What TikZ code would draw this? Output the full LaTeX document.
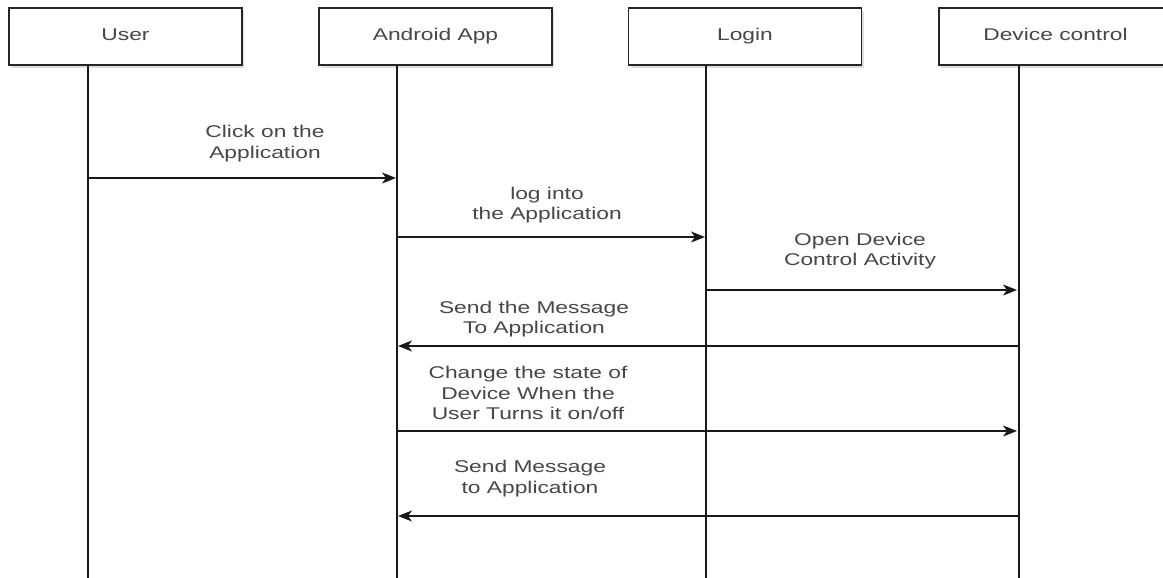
\documentclass[tikz,border=0pt]{standalone}
\usepackage{fontspec}
\setmainfont[FakeStretch=1.34]{Liberation Sans}
\usetikzlibrary{arrows.meta,shadows}
\begin{document}
\begin{tikzpicture}[x=1pt,y=-1pt,
  actor/.style={draw=black!85, line width=1.4pt, fill=white, minimum width=233pt, minimum height=57pt, inner sep=0pt,
    font=\fontsize{17}{20.5}\selectfont, text=black!72, text height=12.5pt, text depth=3.5pt,
    drop shadow={shadow xshift=2pt, shadow yshift=-3pt, opacity=0.25}},
  life/.style={line width=1.3pt, draw=black!90},
  msg/.style={line width=1.3pt, draw=black!90, -{Stealth[length=14pt,width=11pt,inset=4pt]}},
  lbl/.style={align=center, font=\fontsize{17}{20.5}\selectfont, text=black!72, inner sep=0pt}]
\useasboundingbox (0,0) rectangle (1163,578);
\clip (0,0) rectangle (1163,578);
\fill[white] (0,0) rectangle (1163,578);

% actor boxes
\node[actor] (user) at (125.5,36.5) {User};
\node[actor] (app) at (435.5,36.5) {Android App};
\node[actor] (login) at (745,36.5) {Login};
\node[actor] (dev) at (1055.5,36.5) {Device control};

% lifelines
\coordinate (uT) at (88,65); \coordinate (uB) at (88,580);
\coordinate (aT) at (397,65); \coordinate (aB) at (397,580);
\coordinate (lT) at (706,65); \coordinate (lB) at (706,580);
\coordinate (dT) at (1019,65); \coordinate (dB) at (1019,580);
\draw[life] (uT) -- (uB);
\draw[life] (aT) -- (aB);
\draw[life] (lT) -- (lB);
\draw[life] (dT) -- (dB);

% message end points
\coordinate (m1a) at (88,178);  \coordinate (m1b) at (396,178);
\coordinate (m2a) at (397,237); \coordinate (m2b) at (705,237);
\coordinate (m3a) at (706,290); \coordinate (m3b) at (1017,290);
\coordinate (m4a) at (1019,346); \coordinate (m4b) at (398,346);
\coordinate (m5a) at (397,431); \coordinate (m5b) at (1017,431);
\coordinate (m6a) at (1019,516); \coordinate (m6b) at (398,516);

\draw[msg] (m1a) -- (m1b);
\draw[msg] (m2a) -- (m2b);
\draw[msg] (m3a) -- (m3b);
\draw[msg] (m4a) -- (m4b);
\draw[msg] (m5a) -- (m5b);
\draw[msg] (m6a) -- (m6b);

% labels
\node[lbl] (t1) at (265,143.5) {Click on the\\Application};
\node[lbl] (t2) at (547,205) {log into\\the Application};
\node[lbl] (t3) at (860,251) {Open Device\\Control Activity};
\node[lbl] (t4) at (534,319) {Send the Message\\To Application};
\node[lbl] (t5) at (528,393) {Change the state of\\Device When the\\User Turns it on/off};
\node[lbl] (t6) at (530,478.5) {Send Message\\to Application};
\end{tikzpicture}
\end{document}
